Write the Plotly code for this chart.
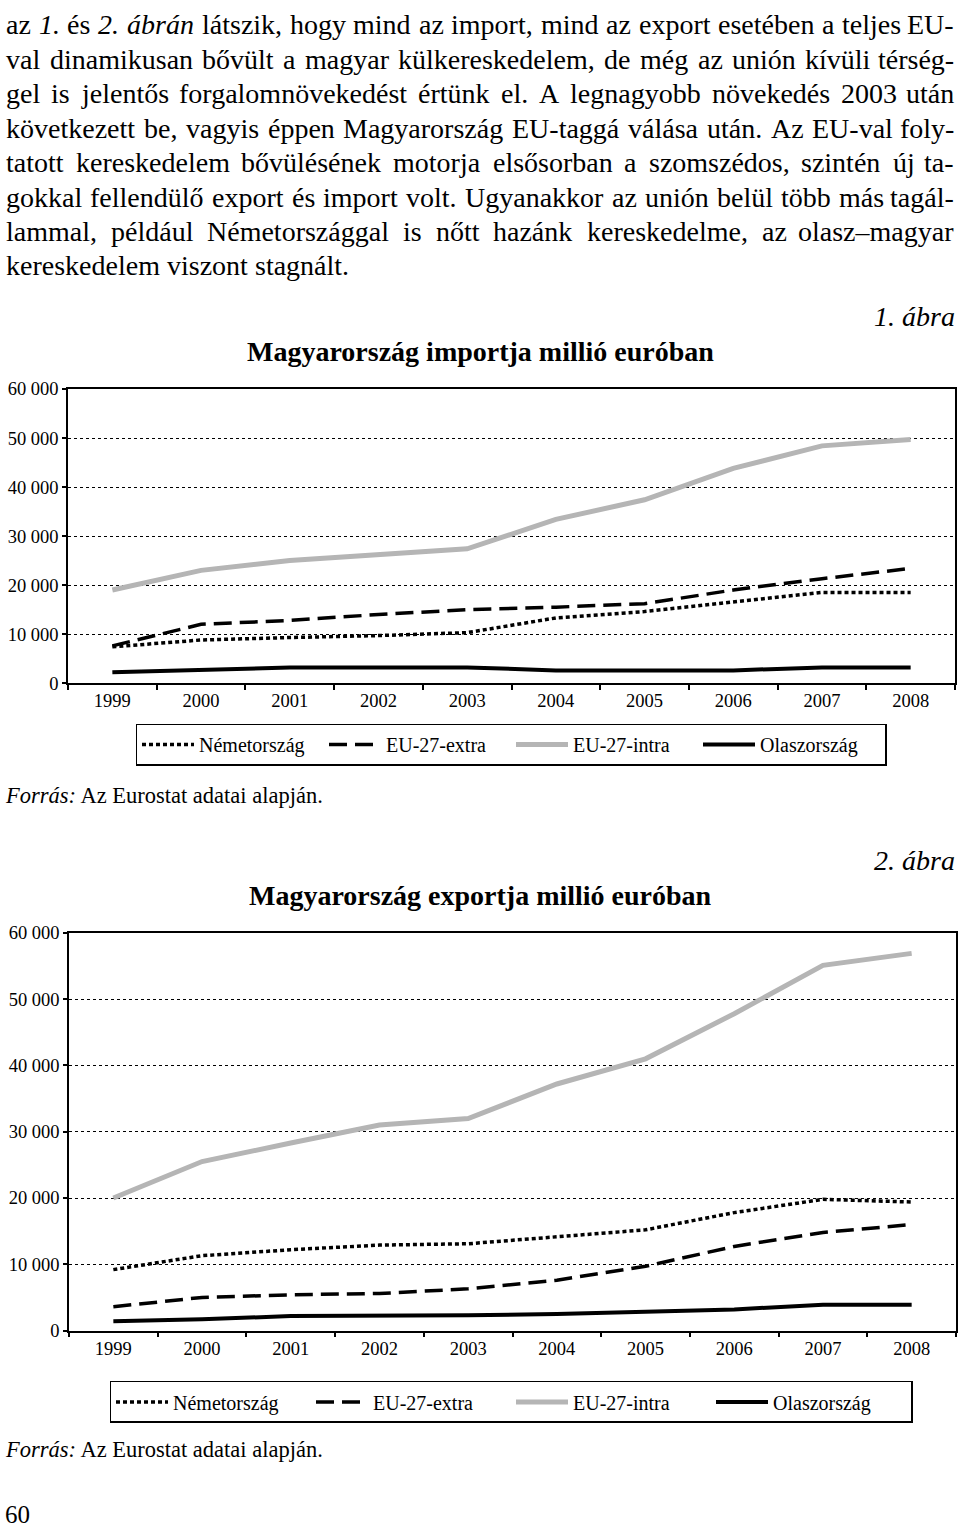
import plotly.graph_objects as go

years = ["1999", "2000", "2001", "2002", "2003", "2004", "2005", "2006", "2007", "2008"]

# Import (million EUR)
imp_de = [7400, 8800, 9300, 9700, 10300, 13300, 14600, 16500, 18500, 18500]
imp_extra = [7600, 12000, 12800, 14000, 15000, 15500, 16200, 19000, 21300, 23400]
imp_intra = [19000, 23000, 25000, 26200, 27400, 33400, 37400, 43800, 48400, 49700]
imp_it = [2200, 2700, 3200, 3200, 3200, 2600, 2600, 2600, 3200, 3200]

# Export (million EUR)
exp_de = [9200, 11300, 12200, 12900, 13100, 14100, 15200, 17800, 19800, 19400]
exp_extra = [3600, 5000, 5400, 5600, 6300, 7600, 9700, 12700, 14800, 16000]
exp_intra = [20000, 25500, 28300, 31000, 32000, 37200, 41000, 47800, 55100, 56900]
exp_it = [1400, 1700, 2200, 2200, 2300, 2500, 2800, 3200, 3900, 3900]

series_names = ["Németország", "EU-27-extra", "EU-27-intra", "Olaszország"]
ytick_vals = [0, 10000, 20000, 30000, 40000, 50000, 60000]
ytick_text = ["0", "10 000", "20 000", "30 000", "40 000", "50 000", "60 000"]

paragraph = [
    "az 1. és 2. ábrán látszik, hogy mind az import, mind az export esetében a teljes EU-",
    "val dinamikusan bővült a magyar külkereskedelem, de még az unión kívüli térség-",
    "gel is jelentős forgalomnövekedést értünk el. A legnagyobb növekedés 2003 után",
    "következett be, vagyis éppen Magyarország EU-taggá válása után. Az EU-val foly-",
    "tatott kereskedelem bővülésének motorja elsősorban a szomszédos, szintén új ta-",
    "gokkal fellendülő export és import volt. Ugyanakkor az unión belül több más tagál-",
    "lammal, például Németországgal is nőtt hazánk kereskedelme, az olasz–magyar",
    "kereskedelem viszont stagnált.",
]
italic_words = {(0, 1), (0, 3), (0, 4)}  # (line, word index) set in italics

W, H = 960, 1538
SERIF = "Liberation Serif"


def py(px):
    return 1 - px / H


# approximate Times / Liberation Serif advance widths (per 1000 em)
_roman = dict(zip("abcdefghijklmnopqrstuvwxyz",
                  [444, 500, 444, 500, 444, 333, 500, 500, 278, 278, 500, 278, 778,
                   500, 500, 500, 500, 333, 389, 278, 500, 500, 722, 500, 500, 444]))
_roman.update(dict(zip("ABCDEFGHIJKLMNOPQRSTUVWXYZ",
                       [722, 667, 667, 722, 611, 556, 722, 722, 333, 389, 722, 611, 889,
                        722, 722, 556, 722, 667, 556, 611, 722, 722, 944, 722, 722, 611])))
_roman.update({c: 500 for c in "0123456789"})
_roman.update({",": 250, ".": 250, "-": 333, ":": 278, ";": 278, "–": 500, " ": 250})
_italic = dict(_roman)
_italic.update({"a": 500, "b": 500, "r": 389, "n": 500, "1": 500, "2": 500})
_base = {"á": "a", "é": "e", "í": "i", "ó": "o", "ö": "o", "ő": "o", "ú": "u",
         "ü": "u", "ű": "u", "É": "E", "Á": "A"}


def text_width(s, size, italic=False):
    tbl = _italic if italic else _roman
    return sum(tbl.get(_base.get(c, c), 500) for c in s) * size / 1000.0


styles = [
    dict(color="black", width=3.5, dash="4px,3px"),
    dict(color="black", width=3.5, dash="18px,8px"),
    dict(color="#b5b5b5", width=5),
    dict(color="black", width=4),
]

fig = go.Figure()

for data, xa, ya, lg in [
    ([imp_de, imp_extra, imp_intra, imp_it], "x", "y", "legend"),
    ([exp_de, exp_extra, exp_intra, exp_it], "x2", "y2", "legend2"),
]:
    for name, vals, st in zip(series_names, data, styles):
        fig.add_trace(go.Scatter(
            x=years, y=vals, name=name, mode="lines", line=st,
            xaxis=xa, yaxis=ya, legend=lg, hoverinfo="skip",
        ))

xcommon = dict(
    type="category", range=[-0.5, 9.5], tickson="boundaries", ticks="outside",
    ticklen=5, tickwidth=1.5, tickcolor="black", showline=True, linecolor="black",
    linewidth=1.5, mirror=True, showgrid=False, zeroline=False,
    tickfont=dict(family=SERIF, size=18.5, color="black"), fixedrange=True,
)
ycommon = dict(
    range=[0, 60000], tickvals=ytick_vals, ticktext=ytick_text, ticks="outside",
    ticklen=4, tickwidth=1.5, tickcolor="black", showline=True, linecolor="black",
    linewidth=1.5, mirror=True, showgrid=True, gridcolor="black", gridwidth=1,
    griddash="dot", zeroline=False,
    tickfont=dict(family=SERIF, size=18.5, color="black"), fixedrange=True,
)

fig.update_layout(
    width=W, height=H, margin=dict(l=0, r=0, t=0, b=0),
    paper_bgcolor="white", plot_bgcolor="white",
    xaxis=dict(domain=[68 / W, 955 / W], anchor="y", **xcommon),
    yaxis=dict(domain=[py(682), py(384)], anchor="x", **ycommon),
    xaxis2=dict(domain=[69 / W, 956 / W], anchor="y2", **xcommon),
    yaxis2=dict(domain=[py(1338), py(935)], anchor="x2", **ycommon),
    legend=dict(
        orientation="h", x=511 / W, xanchor="center", y=py(723), yanchor="top",
        bordercolor="black", borderwidth=1.5, itemwidth=52, entrywidth=120,
        entrywidthmode="pixels", font=dict(family=SERIF, size=20, color="black"),
        itemclick=False, itemdoubleclick=False,
    ),
    legend2=dict(
        orientation="h", x=511 / W, xanchor="center", y=py(1389), yanchor="top",
        bordercolor="black", borderwidth=1.5, itemwidth=52, entrywidth=133,
        entrywidthmode="pixels", font=dict(family=SERIF, size=20, color="black"),
        itemclick=False, itemdoubleclick=False,
    ),
    showlegend=True,
)

ann = []
PSIZE = 28
LEFT, RIGHT = 5, 955
for li, line in enumerate(paragraph):
    words = line.split(" ")
    yv = py(15 + li * 34.9)
    it = [(li, wi) in italic_words for wi in range(len(words))]
    widths = [text_width(w, PSIZE, i) for w, i in zip(words, it)]
    last = li == len(paragraph) - 1
    if last:
        gap = text_width(" ", PSIZE)
    else:
        gap = (RIGHT - LEFT - sum(widths)) / (len(words) - 1)
    x = LEFT
    for wi, (w, wd, i) in enumerate(zip(words, widths, it)):
        is_end = (wi == len(words) - 1) and not last
        ann.append(dict(
            text=("<i>" + w + "</i>") if i else w,
            x=(RIGHT if is_end else x) / W, y=yv, xref="paper", yref="paper",
            xanchor="right" if is_end else "left", yanchor="middle",
            showarrow=False, borderpad=0,
            font=dict(family=SERIF, size=PSIZE, color="black"),
        ))
        x += wd + gap

for title, ty, fig_label, fy, src_y in [
    ("Magyarország importja millió euróban", 346, "1. ábra", 311, 796),
    ("Magyarország exportja millió euróban", 897, "2. ábra", 862, 1458),
]:
    ann.append(dict(
        text="<b>" + title + "</b>", x=480 / W, y=py(ty), xref="paper", yref="paper",
        xanchor="center", yanchor="middle", showarrow=False,
        font=dict(family=SERIF, size=28, color="black"),
    ))
    ann.append(dict(
        text="<i>" + fig_label + "</i>", x=956 / W, y=py(fy), xref="paper", yref="paper",
        xanchor="right", yanchor="middle", showarrow=False, borderpad=0,
        font=dict(family=SERIF, size=28, color="black"),
    ))
    ann.append(dict(
        text="<i>Forrás:</i> Az Eurostat adatai alapján.", x=4 / W, y=py(src_y),
        xref="paper", yref="paper", xanchor="left", yanchor="middle", showarrow=False,
        borderpad=0, font=dict(family=SERIF, size=22.5, color="black"),
    ))

ann.append(dict(
    text="60", x=4 / W, y=py(1524), xref="paper", yref="paper",
    xanchor="left", yanchor="middle", showarrow=False, borderpad=0,
    font=dict(family=SERIF, size=25, color="black"),
))

fig.update_layout(annotations=ann)

fig.write_html(
    "out.html",
    config={"displayModeBar": False, "staticPlot": False},
    post_script="document.body.style.margin='0';document.body.style.overflow='hidden';",
)
